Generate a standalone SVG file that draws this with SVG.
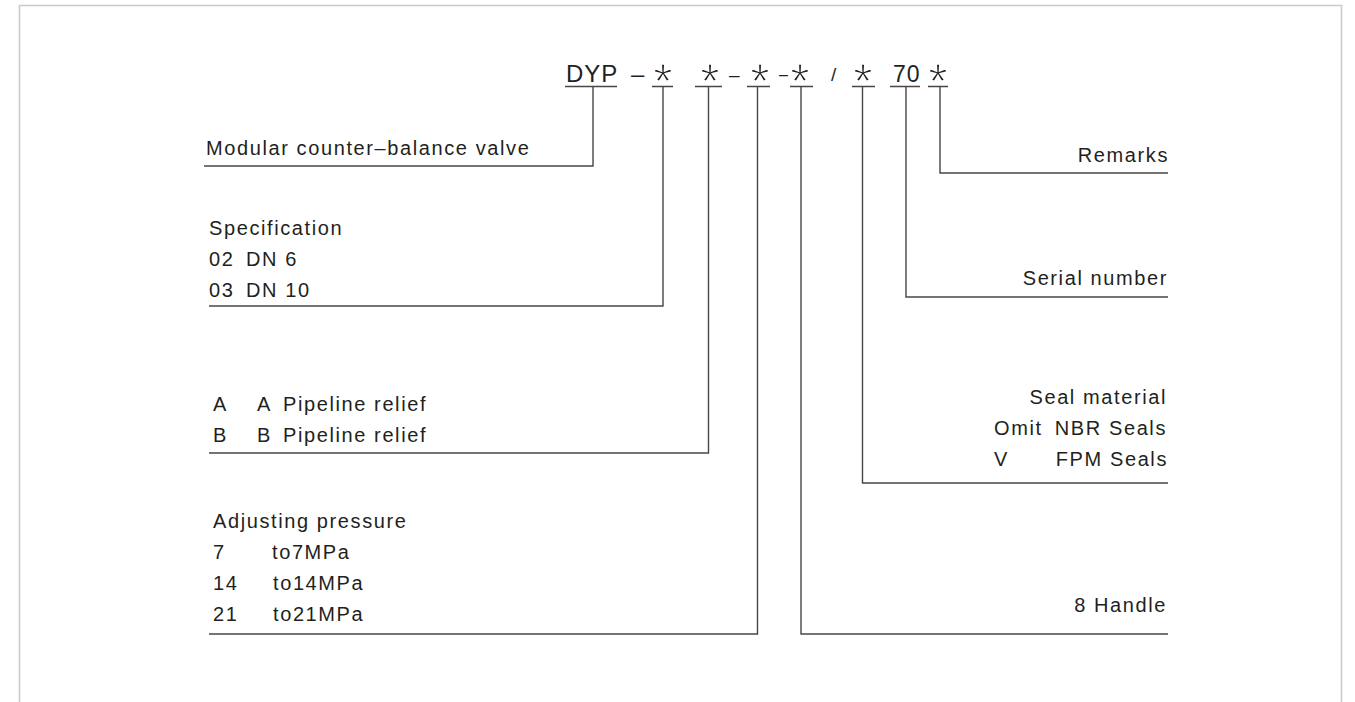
<svg xmlns="http://www.w3.org/2000/svg" width="1355" height="702" viewBox="0 0 1355 702">
<style>
.t{font-family:"Liberation Sans",Arial,sans-serif;font-size:20px;letter-spacing:1.6px;fill:#231f20}
.e{text-anchor:end}
.h{font-family:"Liberation Sans",Arial,sans-serif;font-size:24px;letter-spacing:1px;fill:#231f20}
.s{font-family:"Liberation Sans",Arial,sans-serif;font-size:50px;fill:#231f20;text-anchor:middle;stroke:#fff;stroke-width:1.3px}
.ln{stroke:#4a4546;stroke-width:1.4;fill:none}
</style>
<rect width="1355" height="702" fill="#fff"/>
<path d="M19.5,702 V5.5 H1341.5 V702" fill="none" stroke="#cbcbcb" stroke-width="1.6"/>

<g id="code">
<text class="h" x="566" y="82">DYP</text>
<text class="h" x="631" y="82">–</text>
<text class="s" x="663" y="99">*</text>
<text class="s" x="710" y="99">*</text>
<text class="h" x="729" y="81" style="font-size:19px">–</text>
<text class="s" x="760" y="99">*</text>
<text class="h" x="779" y="80" style="font-size:16px">–</text>
<text class="s" x="800" y="99">*</text>
<text class="h" x="831" y="81" style="font-size:19px">/</text>
<text class="s" x="863" y="99">*</text>
<text class="h" x="893" y="82" style="font-size:23px">70</text>
<text class="s" x="938" y="99">*</text>
</g>

<g id="connectors" class="ln">
<path d="M565,86.5 H617 M652,86.5 H673 M695,86.5 H722 M747,86.5 H770 M790,86.5 H813 M852,86.5 H875 M890,86.5 H920 M928,86.5 H948"/>
<path d="M593,86.5 V166 H204"/>
<path d="M663,86.5 V306 H209"/>
<path d="M708.5,86.5 V453 H209"/>
<path d="M757.5,86.5 V634 H209"/>
<path d="M801,86.5 V634 H1168"/>
<path d="M862.5,86.5 V483 H1168"/>
<path d="M906,86.5 V297 H1168"/>
<path d="M940,86.5 V173 H1168"/>
</g>

<g id="modular">
<text class="t" x="206" y="155">Modular counter–balance valve</text>
</g>

<g id="specification">
<text class="t" x="209" y="235">Specification</text>
<text class="t" x="209" y="266">02<tspan x="246">DN 6</tspan></text>
<text class="t" x="209" y="297">03<tspan x="246">DN 10</tspan></text>
</g>

<g id="pipeline">
<text class="t" x="213" y="411">A<tspan x="257">A</tspan><tspan x="283">Pipeline relief</tspan></text>
<text class="t" x="213" y="442">B<tspan x="257">B</tspan><tspan x="283">Pipeline relief</tspan></text>
</g>

<g id="pressure">
<text class="t" x="213" y="528">Adjusting pressure</text>
<text class="t" x="213" y="559">7<tspan x="272">to7MPa</tspan></text>
<text class="t" x="213" y="590">14<tspan x="273">to14MPa</tspan></text>
<text class="t" x="213" y="621">21<tspan x="273">to21MPa</tspan></text>
</g>

<g id="remarks">
<text class="t e" x="1169" y="162">Remarks</text>
</g>

<g id="serial">
<text class="t e" x="1168" y="285">Serial number</text>
</g>

<g id="seal">
<text class="t e" x="1167" y="404">Seal material</text>
<text class="t" x="994" y="435">Omit</text>
<text class="t e" x="1167" y="435">NBR Seals</text>
<text class="t" x="994" y="466">V</text>
<text class="t e" x="1168" y="466">FPM Seals</text>
</g>

<g id="handle">
<text class="t e" x="1167" y="612">8 Handle</text>
</g>
</svg>
